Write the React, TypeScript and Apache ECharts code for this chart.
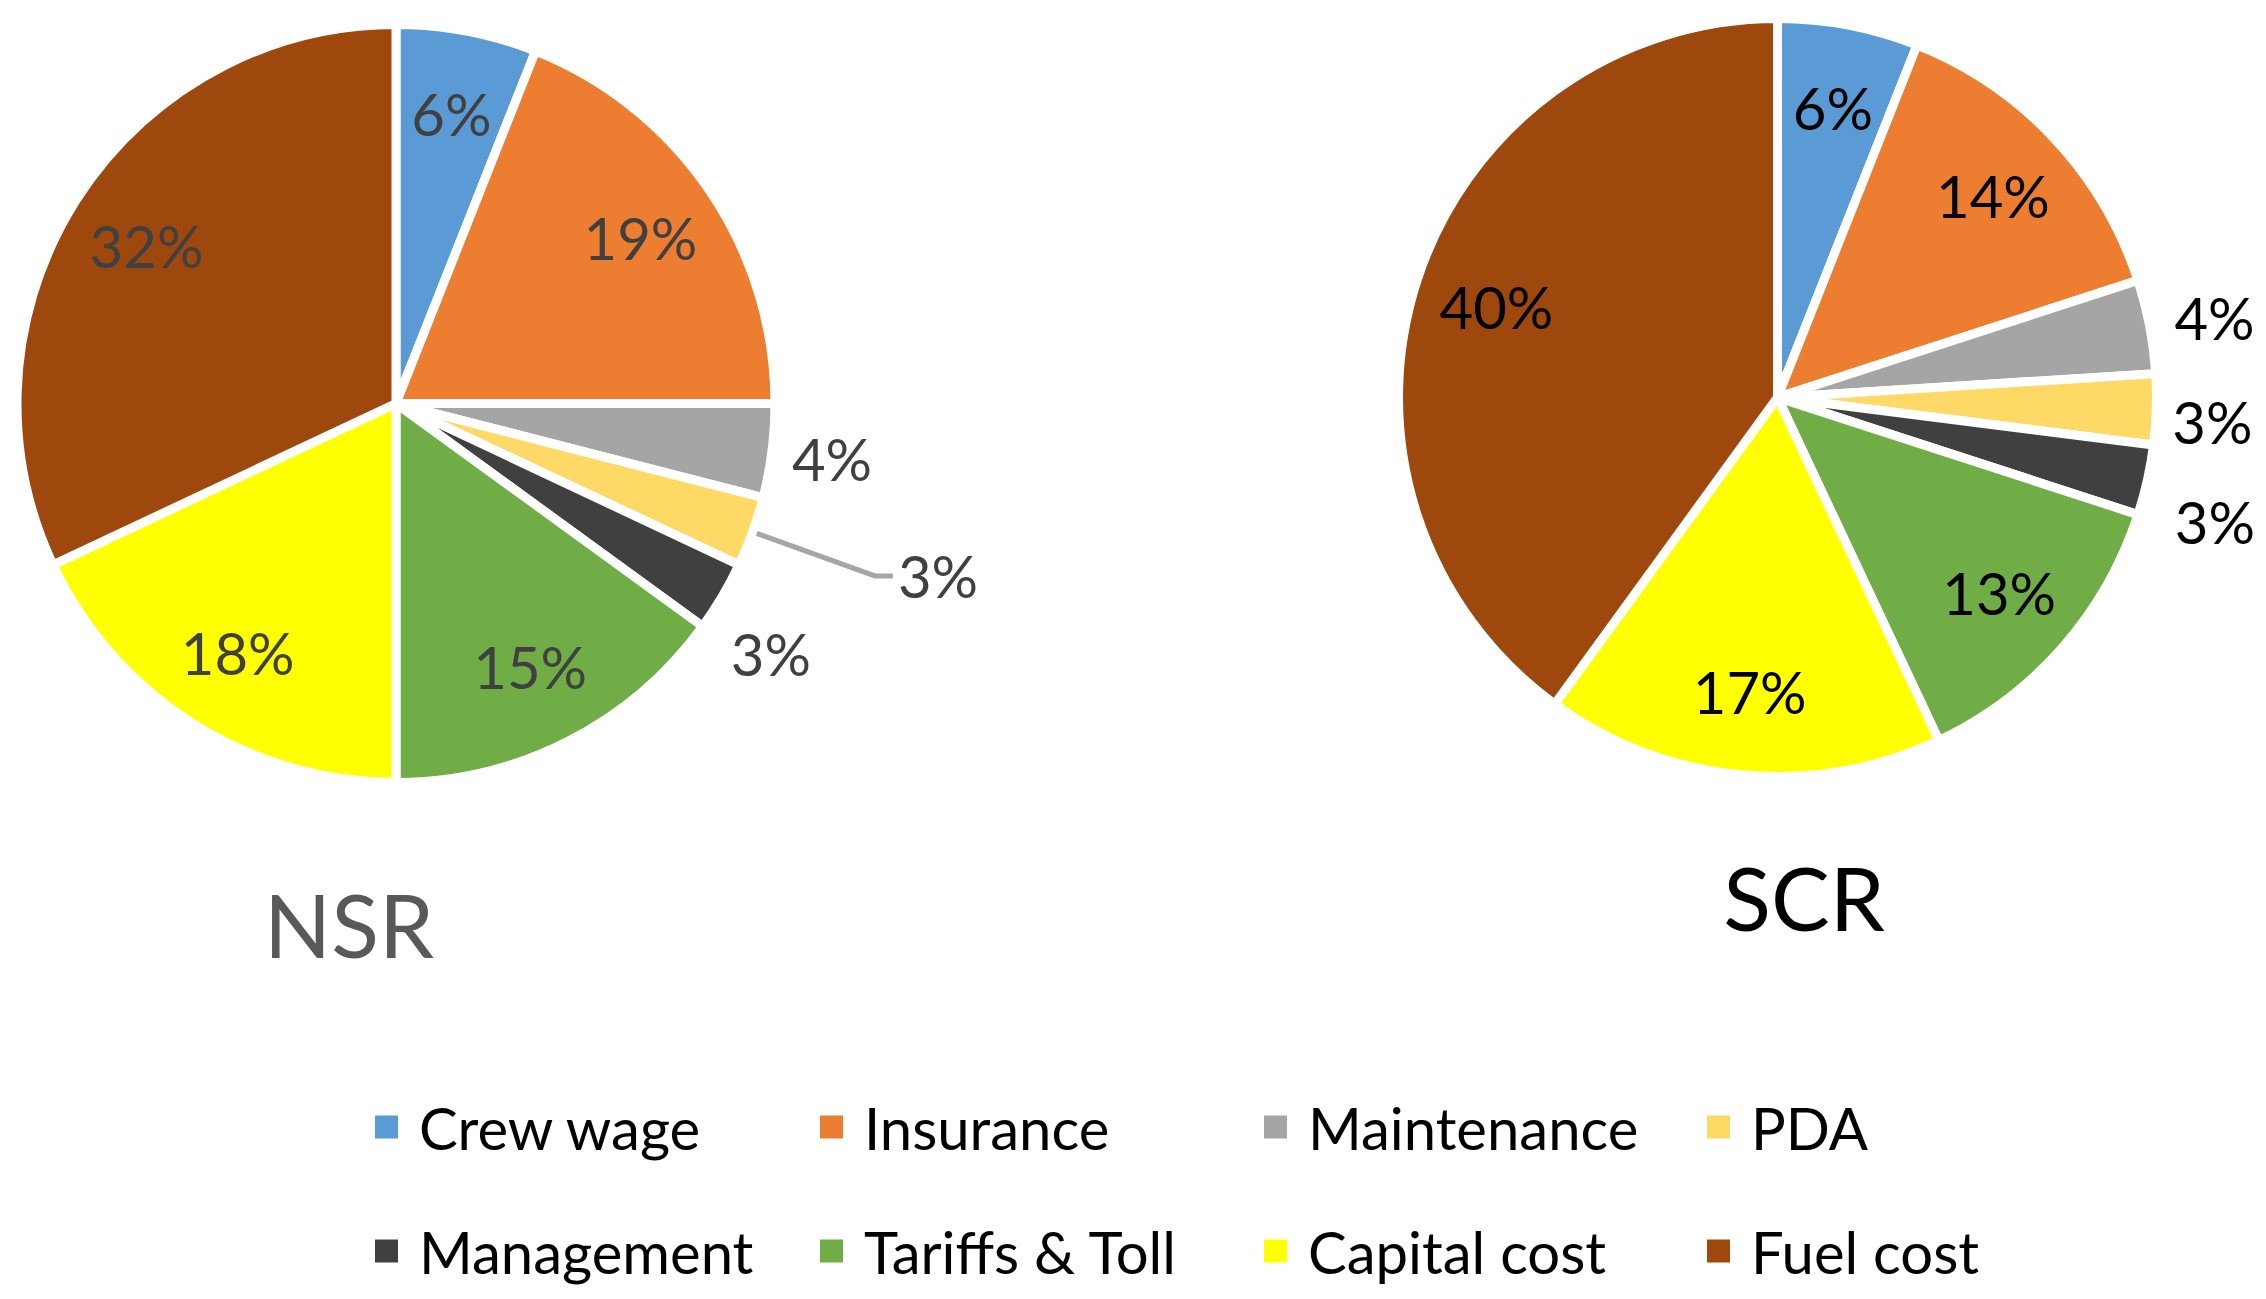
import React, { useEffect, useRef } from "react";
import * as echarts from "echarts";

const CATEGORIES = ["Crew wage", "Insurance", "Maintenance", "PDA", "Management", "Tariffs & Toll", "Capital cost", "Fuel cost"];
const NSR_VALUES = [6, 19, 4, 3, 3, 15, 18, 32];
const SCR_VALUES = [6, 14, 4, 3, 3, 13, 17, 40];
const COLORS = ["#5B9BD5", "#ED7D31", "#A5A5A5", "#FFD966", "#404040", "#70AD47", "#FFFF00", "#9E480E"];
const CHART_TITLES = ["NSR", "SCR"];
const OUTER_SLICES = ["Maintenance", "PDA", "Management"];

const FONT = "Lato, 'Open Sans', sans-serif";
const W = 2266;
const H = 1299;
const R = 379;
const LABEL_R = 585;

// per-slice outside label styling (by category index)
const NSR_OUTER: Record<number, any> = {
  2: { length: 15, length2: 0, line: false, dx: 0, dy: 6 },
  3: { length: 130, length2: 18, line: true, dx: 0, dy: 0 },
  4: { length: 60, length2: 0, line: false, dx: -48, dy: 27 },
};
const SCR_OUTER: Record<number, any> = {
  2: { length: 23, length2: 0, line: false, dx: -3, dy: -5 },
  3: { length: 23, length2: 0, line: false, dx: -12, dy: 11 },
  4: { length: 23, length2: 0, line: false, dx: 0, dy: 36 },
};

function pctLabel(p: any) {
  return Math.round(p.percent) + "%";
}

function buildPies(values: number[], center: number[], labelColor: string, outer: Record<number, any>) {
  const main = {
    type: "pie",
    center,
    radius: [0, R],
    startAngle: 90,
    clockwise: true,
    avoidLabelOverlap: false,
    silent: true,
    minShowLabelAngle: 0,
    itemStyle: { borderColor: "#ffffff", borderWidth: 9 },
    emphasis: { disabled: true },
    label: { show: false },
    labelLine: { show: false },
    labelLayout: (p: any) => {
      const o = outer[p.dataIndex];
      return o ? { dx: o.dx, dy: o.dy } : {};
    },
    data: CATEGORIES.map((name, i) => {
      const o = outer[i];
      const item: any = { name, value: values[i], itemStyle: { color: COLORS[i] } };
      if (o && OUTER_SLICES.indexOf(name) >= 0) {
        item.label = {
          show: true,
          position: "outside",
          formatter: pctLabel,
          color: labelColor,
          fontFamily: FONT,
          fontSize: 58,
          distanceToLabelLine: 5,
        };
        item.labelLine = {
          show: o.line,
          length: o.length,
          length2: o.length2,
          smooth: false,
          lineStyle: { color: "#A6A6A6", width: 5 },
        };
      }
      return item;
    }),
  };
  const labels = {
    type: "pie",
    center,
    radius: [0, LABEL_R],
    startAngle: 90,
    clockwise: true,
    avoidLabelOverlap: false,
    silent: true,
    minShowLabelAngle: 0,
    emphasis: { disabled: true },
    itemStyle: { color: "rgba(0,0,0,0)", borderWidth: 0 },
    labelLine: { show: false },
    label: {
      show: true,
      position: "inside",
      formatter: pctLabel,
      color: labelColor,
      fontFamily: FONT,
      fontSize: 58,
    },
    data: CATEGORIES.map((name, i) => ({
      name,
      value: values[i],
      label: { show: OUTER_SLICES.indexOf(name) < 0 },
    })),
  };
  return [main, labels];
}

const LEGEND_COLS = [373, 818, 1262, 1705];
const LEGEND_ROWS = [1127, 1251];

export default function App() {
  const ref = useRef<HTMLDivElement>(null);
  useEffect(() => {
    if (!ref.current) return;
    const chart = echarts.init(ref.current, null, { renderer: "svg", width: W, height: H });
    const legends = CATEGORIES.map((name, i) => ({
      data: [name],
      left: LEGEND_COLS[i % 4],
      top: LEGEND_ROWS[Math.floor(i / 4)] - 30,
      orient: "horizontal",
      icon: "rect",
      itemWidth: 25,
      itemHeight: 25,
      padding: 0,
      selectedMode: false,
      textStyle: { fontFamily: FONT, fontSize: 58, lineHeight: 60, color: "#000000", padding: [0, 0, 0, 15] },
    }));
    chart.setOption({
      animation: false,
      backgroundColor: "#ffffff",
      color: COLORS,
      legend: legends,
      graphic: [
        {
          type: "text",
          x: 349,
          y: 924,
          style: { text: CHART_TITLES[0], font: `88px ${FONT}`, fill: "#595959", textAlign: "center", textVerticalAlign: "middle" },
        },
        {
          type: "text",
          x: 1804,
          y: 897,
          style: { text: CHART_TITLES[1], font: `88px ${FONT}`, fill: "#000000", textAlign: "center", textVerticalAlign: "middle" },
        },
      ],
      series: [
        ...buildPies(NSR_VALUES, [396, 403.5], "#404040", NSR_OUTER),
        ...buildPies(SCR_VALUES, [1777.5, 397.5], "#000000", SCR_OUTER),
      ],
    });
    return () => chart.dispose();
  }, []);
  return <div ref={ref} style={{ position: "fixed", left: 0, top: 0, width: W, height: H, background: "#fff" }} />;
}
